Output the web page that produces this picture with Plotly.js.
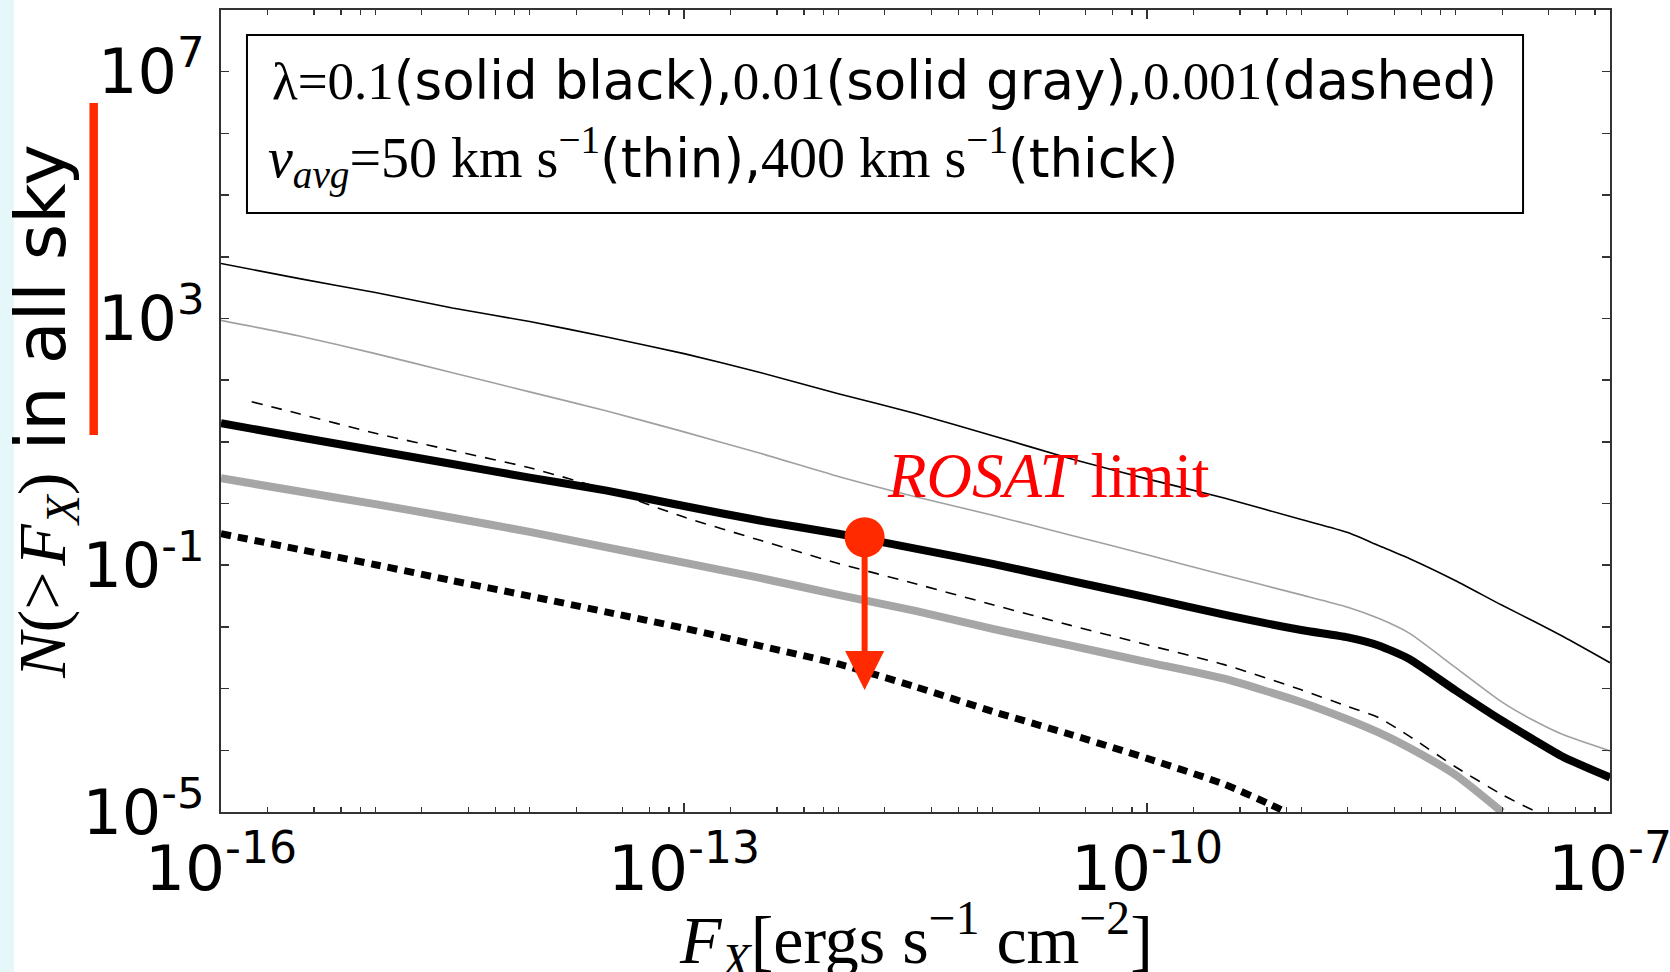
<!DOCTYPE html>
<html>
<head>
<meta charset="utf-8">
<script src="https://cdn.plot.ly/plotly-3.0.1.min.js"></script>
<style>
  html, body { margin: 0; padding: 0; background: #ffffff; }
  #chart { width: 1670px; height: 972px; }
</style>
</head>
<body>
<div id="chart"></div>
<script>
// ---- data (flux in erg s^-1 cm^-2, N(>F_X) in all sky) ----
const FX = [1e-16, 3.16e-16, 1e-15, 3.16e-15, 1e-14, 3.16e-14, 1e-13, 3.16e-13, 1e-12, 3.16e-12,
            1e-11, 3.16e-11, 1e-10, 3.16e-10, 1e-9, 2e-9, 3.16e-9, 5e-9, 1e-8, 2e-8, 3.16e-8, 5e-8, 1e-7];

// lambda = 0.1, v_avg = 50 km/s (thin black)
const thinBlackN = [7760, 4470, 2630, 1480, 891, 501, 269, 132, 60.3, 28.8,
                    12.6, 5.37, 2.51, 1.23, 0.550, 0.339, 0.209, 0.129, 0.0562, 0.0224, 0.0126, 0.00692, 0.00263];
// lambda = 0.01, v_avg = 50 km/s (thin gray)
const thinGrayN = [933, 525, 269, 132, 64.6, 31.6, 14.5, 6.46, 2.75, 1.29,
                   0.646, 0.309, 0.148, 0.0692, 0.0331, 0.0209, 0.0138, 0.00794, 0.00219, 6.03e-4, 3.09e-4, 1.78e-4, 9.77e-5];
// lambda = 0.1, v_avg = 400 km/s (thick black)
const thickBlackN = [20.0, 12.0, 7.24, 4.37, 2.63, 1.62, 0.912, 0.525, 0.324, 0.186,
                     0.105, 0.0562, 0.0302, 0.0158, 0.00891, 0.00676, 0.00501, 0.00302, 9.33e-4, 3.02e-4, 1.51e-4, 7.76e-5, 3.63e-5];
// lambda = 0.01, v_avg = 400 km/s (thick gray)
const thickGrayF = [1e-16, 3.16e-16, 1e-15, 3.16e-15, 1e-14, 3.16e-14, 1e-13, 3.16e-13, 1e-12, 3.16e-12,
                    1e-11, 3.16e-11, 1e-10, 3.16e-10, 1e-9, 2e-9, 3.16e-9, 5e-9, 1e-8, 2e-8];
const thickGrayN = [2.57, 1.58, 0.977, 0.589, 0.347, 0.195, 0.110, 0.0617, 0.0331, 0.0182,
                    0.00933, 0.00501, 0.00269, 0.00145, 6.03e-4, 3.16e-4, 1.95e-4, 1.10e-4, 3.98e-5, 1.0e-5];
// lambda = 0.001, v_avg = 50 km/s (thin dashed)
const thinDashF = [1.58e-16, 3.16e-16, 1e-15, 3.16e-15, 1e-14, 3.16e-14, 1e-13, 3.16e-13, 1e-12, 3.16e-12,
                   1e-11, 3.16e-11, 1e-10, 3.16e-10, 1e-9, 2e-9, 3.16e-9, 5e-9, 1e-8, 2e-8, 3.16e-8];
const thinDashN = [44.7, 28.8, 13.8, 7.24, 3.80, 1.66, 0.603, 0.251, 0.107, 0.0501,
                   0.0229, 0.0107, 0.00513, 0.00245, 9.55e-4, 5.13e-4, 3.39e-4, 1.70e-4, 5.37e-5, 1.91e-5, 1.07e-5];
// lambda = 0.001, v_avg = 400 km/s (thick dashed)
const thickDashF = [1e-16, 3.16e-16, 1e-15, 3.16e-15, 1e-14, 3.16e-14, 1e-13, 3.16e-13, 1e-12, 3.16e-12,
                    1e-11, 3.16e-11, 1e-10, 3.16e-10, 6.31e-10, 7.94e-10];
const thickDashN = [0.324, 0.182, 0.102, 0.0562, 0.0316, 0.0174, 0.00955, 0.00490, 0.00251, 0.00107,
                    4.27e-4, 1.82e-4, 7.41e-5, 2.82e-5, 1.32e-5, 1.0e-5];

// ROSAT limit point and its upper-limit arrow
const rosatF = 1.48e-12;
const rosatN = 0.284;
const rosatArrowTipN = 9.5e-4;

// tick labels
const xTickVals = [1e-16, 1e-13, 1e-10, 1e-7];
const xTickText = ['10<sup>-16</sup>', '10<sup>-13</sup>', '10<sup>-10</sup>', '10<sup>-7</sup>'];
const yTickVals = [1e-5, 1e-1, 1e3, 1e7];
const yTickText = ['10<sup>-5</sup>', '10<sup>-1</sup>', '10<sup>3</sup>', '10<sup>7</sup>'];
const yMinorVals = [1e-4, 1e-3, 1e-2, 1, 10, 100, 1e4, 1e5, 1e6, 1e8];

// minor x ticks: other decades and 2,4,6,8 x decade
const xMinor = [];
for (let e = -16; e < -7; e++) {
  [1, 2, 4, 6, 8].forEach(m => {
    const v = m * Math.pow(10, e);
    if (!(m === 1 && (e === -16 || e === -13 || e === -10))) xMinor.push(v);
  });
}

const SERIF = 'Liberation Serif';
const SANS = 'DejaVu Sans';
const SM = { shape: 'spline', smoothing: 0.6 };

const traces = [
  { x: thinDashF, y: thinDashN, mode: 'lines', line: Object.assign({ color: '#000000', width: 1.6, dash: '11px,9px' }, SM), hoverinfo: 'skip' },
  { x: thickDashF, y: thickDashN, mode: 'lines', line: Object.assign({ color: '#000000', width: 7, dash: '10px,7px' }, SM), hoverinfo: 'skip' },
  { x: thickGrayF, y: thickGrayN, mode: 'lines', line: Object.assign({ color: '#a6a6a6', width: 8 }, SM), hoverinfo: 'skip' },
  { x: FX, y: thinGrayN, mode: 'lines', line: Object.assign({ color: '#a0a0a0', width: 1.6 }, SM), hoverinfo: 'skip' },
  { x: FX, y: thickBlackN, mode: 'lines', line: Object.assign({ color: '#000000', width: 8 }, SM), hoverinfo: 'skip' },
  { x: FX, y: thinBlackN, mode: 'lines', line: Object.assign({ color: '#000000', width: 1.6 }, SM), hoverinfo: 'skip' },
  { x: [rosatF], y: [rosatN], mode: 'markers', marker: { color: '#ff2a00', size: 40, line: { width: 0 } }, hoverinfo: 'skip' }
];

const layout = {
  width: 1670, height: 972,
  margin: { l: 221, r: 60, t: 10, b: 160 },
  paper_bgcolor: '#ffffff', plot_bgcolor: '#ffffff',
  showlegend: false,
  xaxis: {
    type: 'log', range: [-16, -7],
    showgrid: false, zeroline: false,
    showline: true, linecolor: '#333333', linewidth: 2, mirror: 'allticks',
    ticks: 'inside', ticklen: 9, tickwidth: 1.5, tickcolor: '#333333',
    tickmode: 'array', tickvals: xTickVals, ticktext: xTickText,
    tickfont: { family: SANS, size: 63, color: '#000000' },
    ticklabelstandoff: 0, ticklabeloverflow: 'allow',
    minor: { tickmode: 'array', tickvals: xMinor, ticks: 'inside', ticklen: 5, tickwidth: 1.2, tickcolor: '#333333' }
  },
  yaxis: {
    type: 'log', range: [-5, 8],
    showgrid: false, zeroline: false,
    showline: true, linecolor: '#333333', linewidth: 2, mirror: 'allticks',
    ticks: 'inside', ticklen: 8, tickwidth: 1.5, tickcolor: '#333333',
    tickmode: 'array', tickvals: yTickVals, ticktext: yTickText,
    tickfont: { family: SANS, size: 62, color: '#000000' },
    ticklabelstandoff: 2, ticklabeloverflow: 'allow',
    minor: { tickmode: 'array', tickvals: yMinorVals, ticks: 'inside', ticklen: 8, tickwidth: 1.5, tickcolor: '#333333' },
    title: { text: '<span style="font-family:Liberation Serif;font-size:68px"><i>N</i>(>\u200a<i>F</i><sub><i>X</i></sub>)</span> in all sky',
             font: { family: SANS, size: 70, color: '#000000' }, standoff: 4 }
  },
  shapes: [
    // legend box
    { type: 'rect', xref: 'paper', yref: 'paper', x0: 0.0187, x1: 0.9374, y0: 0.7469, y1: 0.9688,
      line: { color: '#000000', width: 2 }, fillcolor: 'rgba(255,255,255,0)' },
    // red highlight bar beside the y title
    { type: 'rect', xref: 'paper', yref: 'paper', x0: -0.0947, x1: -0.0886, y0: 0.470, y1: 0.884,
      line: { width: 0 }, fillcolor: '#ff2a00' },
    // faint slide-background strip on the far left
    { type: 'rect', xref: 'paper', yref: 'paper', x0: -0.1591, x1: -0.1490, y0: -0.2, y1: 1.0125,
      line: { width: 0 }, fillcolor: '#e6f7fa', layer: 'below' }
  ],
  annotations: [
    // x-axis title
    { xref: 'paper', yref: 'paper', x: 0.5004, y: -0.1596, xanchor: 'center', yanchor: 'middle', showarrow: false,
      text: '<i>F</i><sub><i>X</i></sub>[ergs s<sup>\u22121</sup> cm<sup>\u22122</sup>]',
      font: { family: SERIF, size: 68, color: '#000000' } },
    { xref: 'paper', yref: 'paper', x: 0.0353, y: 0.9127, xanchor: 'left', yanchor: 'middle', showarrow: false,
      text: '<span style="font-family:Liberation Serif">\u03bb=0.1</span>(solid black),<span style="font-family:Liberation Serif">0.01</span>(solid gray),<span style="font-family:Liberation Serif">0.001</span>(dashed)',
      font: { family: SANS, size: 53, color: '#000000' } },
    { xref: 'paper', yref: 'paper', x: 0.0324, y: 0.8167, xanchor: 'left', yanchor: 'middle', showarrow: false,
      text: '<span style="font-family:Liberation Serif;font-size:56px"><i>v</i><sub><i>avg</i></sub>=50 km s<sup>\u22121</sup></span>(thin),<span style="font-family:Liberation Serif;font-size:56px">400 km s<sup>\u22121</sup></span>(thick)',
      font: { family: SANS, size: 53, color: '#000000' } },
    { xref: 'paper', yref: 'paper', x: 0.5954, y: 0.419, xanchor: 'center', yanchor: 'middle', showarrow: false,
      text: '<i>ROSAT</i> limit', font: { family: SERIF, size: 63, color: '#ff0000' } },
    { xref: 'x', yref: 'y', axref: 'x', ayref: 'y',
      x: Math.log10(rosatF), y: Math.log10(rosatArrowTipN),
      ax: Math.log10(rosatF), ay: Math.log10(rosatN),
      text: '', showarrow: true, arrowhead: 2, arrowsize: 1.3, arrowwidth: 6, arrowcolor: '#ff2a00', standoff: 0 }
  ]
};

Plotly.newPlot('chart', traces, layout, { displayModeBar: false, staticPlot: true });
</script>
</body>
</html>
